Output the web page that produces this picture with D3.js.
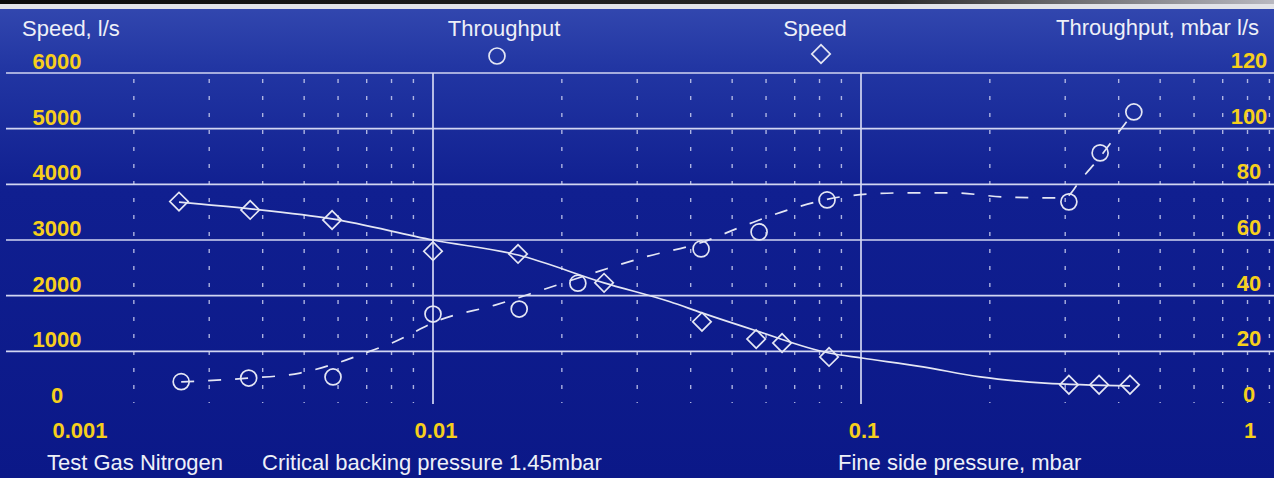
<!DOCTYPE html>
<html>
<head>
<meta charset="utf-8">
<script src="https://cdn.jsdelivr.net/npm/d3@7"></script>
<style>
  html, body { margin: 0; padding: 0; background: #0c1a8a; }
  svg { display: block; }
  text { font-family: "Liberation Sans", Arial, sans-serif; }
</style>
</head>
<body>
<svg id="chart" width="1274" height="478"></svg>
<script>
// ---------- data ----------
const xTickValues = [0.001, 0.01, 0.1, 1];
const xTickLabels = ["0.001", "0.01", "0.1", "1"];
const speedTicks = [0, 1000, 2000, 3000, 4000, 5000, 6000];
const throughputTicks = [0, 20, 40, 60, 80, 100, 120];

// measured points: Speed (diamonds)
const speedPressure = [0.00255, 0.00374, 0.00581, 0.0100, 0.0158, 0.0251, 0.0425, 0.0569, 0.0654, 0.0842, 0.306, 0.360, 0.425];
const speedValues   = [3690, 3540, 3360, 2800, 2750, 2230, 1530, 1220, 1150, 900, 400, 400, 400];

// measured points: Throughput (circles)
const throughputPressure = [0.00258, 0.00371, 0.00584, 0.0100, 0.0159, 0.0218, 0.0423, 0.0578, 0.0833, 0.306, 0.362, 0.434];
const throughputValues   = [9.1, 10.4, 10.8, 33.4, 35.2, 44.5, 56.8, 62.9, 74.4, 73.7, 91.3, 106];

// fitted curves as drawn in the chart
const speedFitPressure = [0.00255, 0.00374, 0.00581, 0.0100, 0.0158, 0.0251, 0.0358, 0.0425, 0.0569, 0.0842, 0.1005, 0.1396, 0.190, 0.269, 0.425];
const speedFitValues   = [3680, 3560, 3380, 3000, 2730, 2230, 1890, 1690, 1370, 970, 880, 720, 540, 430, 380];

const throughputFitPressure = [0.00258, 0.00372, 0.00489, 0.00597, 0.00705, 0.00802, 0.01038, 0.01396, 0.01827, 0.02456, 0.03129, 0.04206, 0.05387, 0.07124, 0.09275, 0.1233, 0.1641, 0.2193, 0.2981, 0.3285, 0.3618, 0.3985, 0.4344];
const throughputFitValues   = [9.0, 10.4, 12.2, 15.8, 19.8, 23.0, 31.3, 36.6, 42.4, 48.9, 53.9, 58.9, 65.4, 71.9, 75.8, 76.9, 76.9, 75.4, 75.1, 82.3, 89.8, 98.4, 106.0];

// ---------- layout ----------
const W = 1274, H = 478;
const svg = d3.select("#chart");

const x = d3.scaleLog().domain([0.001, 1]).range([5, 1289]);
const yS = d3.scaleLinear().domain([0, 6000]).range([407, 73]);
const yT = d3.scaleLinear().domain([0, 120]).range([407, 73]);

const lineColor = "#e4e6f4";
const gridColor = "#d2d6f2";
const yellow = "#f6cf1c";
const white = "#eef0f8";

// background
const defs = svg.append("defs");
const bg = defs.append("linearGradient").attr("id", "bg").attr("x1", 0).attr("y1", 0).attr("x2", 0).attr("y2", 1);
bg.append("stop").attr("offset", "0%").attr("stop-color", "#3449b0");
bg.append("stop").attr("offset", "14%").attr("stop-color", "#2236a3");
bg.append("stop").attr("offset", "40%").attr("stop-color", "#101f90");
bg.append("stop").attr("offset", "100%").attr("stop-color", "#0b1888");
const topg = defs.append("linearGradient").attr("id", "topg").attr("x1", 0).attr("y1", 0).attr("x2", 1).attr("y2", 0);
topg.append("stop").attr("offset", "0%").attr("stop-color", "#0a0a0a");
topg.append("stop").attr("offset", "70%").attr("stop-color", "#2a2a2a");
topg.append("stop").attr("offset", "100%").attr("stop-color", "#b8b8c0");

svg.append("rect").attr("x", 0).attr("y", 0).attr("width", W).attr("height", H).attr("fill", "url(#bg)");
svg.append("rect").attr("x", 0).attr("y", 0).attr("width", W).attr("height", 4).attr("fill", "url(#topg)");
svg.append("rect").attr("x", 0).attr("y", 4).attr("width", W).attr("height", 5).attr("fill", "#e2e3e8");

// minor vertical dashed grid lines
const minorTicks = [];
[0.001, 0.01, 0.1].forEach(d => { for (let k = 2; k <= 9; k++) minorTicks.push(d * k); });
svg.append("g").selectAll("line").data(minorTicks).join("line")
  .attr("x1", d => x(d)).attr("x2", d => x(d))
  .attr("y1", yS(6000) + 6).attr("y2", yS(0) - 4)
  .attr("stroke", "#c9cdef").attr("stroke-width", 1.4)
  .attr("stroke-dasharray", "4,13").attr("opacity", 0.85);

// horizontal grid lines
svg.append("g").selectAll("line").data(speedTicks.filter(d => d > 0)).join("line")
  .attr("x1", 6).attr("x2", W)
  .attr("y1", d => yS(d)).attr("y2", d => yS(d))
  .attr("stroke", gridColor).attr("stroke-width", 1.7);

// major vertical lines (0.01, 0.1)
svg.append("g").selectAll("line").data(xTickValues.filter(d => d > 0.001 && d < 1)).join("line")
  .attr("x1", d => x(d)).attr("x2", d => x(d))
  .attr("y1", yS(6000)).attr("y2", yS(0) - 3)
  .attr("stroke", gridColor).attr("stroke-width", 1.7);

// left axis labels (speed)
svg.append("g").selectAll("text").data(speedTicks).join("text")
  .attr("x", 57).attr("y", d => yS(d) - 4)
  .attr("text-anchor", "middle").attr("fill", yellow)
  .attr("font-weight", "bold").attr("font-size", 22)
  .text(d => d);

// right axis labels (throughput)
svg.append("g").selectAll("text").data(throughputTicks).join("text")
  .attr("x", 1249).attr("y", d => yT(d) - 5)
  .attr("text-anchor", "middle").attr("fill", yellow)
  .attr("font-weight", "bold").attr("font-size", 22)
  .text(d => d);

// x axis labels
svg.append("g").selectAll("text").data(xTickValues).join("text")
  .attr("x", d => Math.max(80, Math.min(1250, x(d) + 3)))
  .attr("y", 438)
  .attr("text-anchor", "middle").attr("fill", yellow)
  .attr("font-weight", "bold").attr("font-size", 22)
  .text((d, i) => xTickLabels[i]);

// titles
const titles = [
  { t: "Speed, l/s", x: 22, y: 36, a: "start" },
  { t: "Throughput", x: 504, y: 36, a: "middle" },
  { t: "Speed", x: 815, y: 36, a: "middle" },
  { t: "Throughput, mbar l/s", x: 1259, y: 35, a: "end" },
  { t: "Test Gas Nitrogen", x: 47, y: 470, a: "start" },
  { t: "Critical backing pressure 1.45mbar", x: 262, y: 470, a: "start" },
  { t: "Fine side pressure, mbar", x: 838, y: 470, a: "start" }
];
svg.append("g").selectAll("text").data(titles).join("text")
  .attr("x", d => d.x).attr("y", d => d.y)
  .attr("text-anchor", d => d.a).attr("fill", white)
  .attr("font-size", 22).text(d => d.t);

// legend symbols
svg.append("circle").attr("cx", 497).attr("cy", 56).attr("r", 8)
  .attr("fill", "none").attr("stroke", lineColor).attr("stroke-width", 1.7);
const diamond = d3.symbol().type(d3.symbolSquare).size(170);
svg.append("path").attr("d", diamond())
  .attr("transform", "translate(821,54) rotate(45)")
  .attr("fill", "none").attr("stroke", lineColor).attr("stroke-width", 1.7);

// fitted curves
const speedFit = speedFitPressure.map((p, i) => [p, speedFitValues[i]]);
const tpFit = throughputFitPressure.map((p, i) => [p, throughputFitValues[i]]);

svg.append("path").datum(speedFit)
  .attr("d", d3.line().x(d => x(d[0])).y(d => yS(d[1])).curve(d3.curveMonotoneX))
  .attr("fill", "none").attr("stroke", lineColor).attr("stroke-width", 1.7);

svg.append("path").datum(tpFit)
  .attr("d", d3.line().x(d => x(d[0])).y(d => yT(d[1])).curve(d3.curveMonotoneX))
  .attr("fill", "none").attr("stroke", lineColor).attr("stroke-width", 1.7)
  .attr("stroke-dasharray", "13,14");

// markers
const speedPts = speedPressure.map((p, i) => [p, speedValues[i]]);
const tpPts = throughputPressure.map((p, i) => [p, throughputValues[i]]);

svg.append("g").selectAll("path").data(speedPts).join("path")
  .attr("d", diamond())
  .attr("transform", d => `translate(${x(d[0])},${yS(d[1])}) rotate(45)`)
  .attr("fill", "none").attr("stroke", lineColor).attr("stroke-width", 1.7);

svg.append("g").selectAll("circle").data(tpPts).join("circle")
  .attr("cx", d => x(d[0])).attr("cy", d => yT(d[1])).attr("r", 8)
  .attr("fill", "none").attr("stroke", lineColor).attr("stroke-width", 1.7);
</script>
</body>
</html>
